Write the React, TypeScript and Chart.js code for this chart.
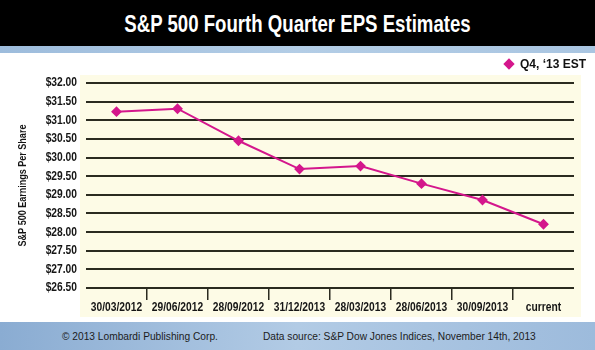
import React, { useEffect, useRef } from "react";
import { Chart, registerables } from "chart.js";

Chart.register(...registerables);

const categories = [
  "30/03/2012",
  "29/06/2012",
  "28/09/2012",
  "31/12/2013",
  "28/03/2013",
  "28/06/2013",
  "30/09/2013",
  "current",
];
const epsEstimates = [31.23, 31.31, 30.45, 29.69, 29.77, 29.3, 28.86, 28.21];
const seriesLabel = "Q4, \u201813 EST";
const yMin = 26.5;
const yMax = 32;
const yStep = 0.5;

const titleText = "S&P 500 Fourth Quarter EPS Estimates";
const yTitle = "S&P 500 Earnings Per Share";
const footerLeft = "\u00A9 2013 Lombardi Publishing Corp.";
const footerRight = "Data source: S&P Dow Jones Indices, November 14th, 2013";

const LINE = "#d4168c";
const GRID = "#2b2b20";
const TEXT = "#151515";
const SANS = "'Liberation Sans', Arial, sans-serif";
const SQUEEZE = 0.82;

const creamBg = {
  id: "creamBg",
  beforeDraw(chart: any) {
    const ctx = chart.ctx;
    ctx.save();
    ctx.fillStyle = "#fdfbe6";
    ctx.fillRect(80, 22, 501, 242);
    ctx.restore();
  },
};

// Draws tick labels and the y title in a condensed face (horizontal squeeze),
// positioned from the library's own scales.
const condensedLabels = {
  id: "condensedLabels",
  afterDraw(chart: any) {
    const ctx = chart.ctx;
    const xs = chart.scales.x;
    const ys = chart.scales.y;
    ctx.save();
    ctx.fillStyle = TEXT;
    ctx.font = `bold 12.5px ${SANS}`;
    ctx.textBaseline = "middle";

    ctx.textAlign = "right";
    ys.ticks.forEach((t: any, i: number) => {
      const y = ys.getPixelForTick(i);
      ctx.save();
      ctx.translate(ys.right - 9, y);
      ctx.scale(SQUEEZE, 1);
      ctx.fillText(String(t.label), 0, 0);
      ctx.restore();
    });

    ctx.textAlign = "center";
    xs.ticks.forEach((t: any, i: number) => {
      const x = xs.getPixelForTick(i);
      ctx.save();
      ctx.translate(x, xs.top + 20);
      ctx.scale(SQUEEZE, 1);
      ctx.fillText(String(t.label), 0, 0);
      ctx.restore();
    });

    ctx.font = `bold 11px ${SANS}`;
    ctx.save();
    ctx.translate(23, (ys.top + ys.bottom) / 2);
    ctx.rotate(-Math.PI / 2);
    ctx.scale(SQUEEZE, 1);
    ctx.textAlign = "center";
    ctx.fillText(yTitle, 0, 0);
    ctx.restore();

    ctx.restore();
  },
};

export default function App() {
  const ref = useRef<HTMLCanvasElement | null>(null);

  useEffect(() => {
    if (!ref.current) return;
    const chart = new Chart(ref.current, {
      type: "line",
      data: {
        labels: categories,
        datasets: [
          {
            label: seriesLabel,
            data: epsEstimates,
            borderColor: LINE,
            backgroundColor: LINE,
            borderWidth: 2,
            pointStyle: "rectRot",
            pointRadius: 4,
            pointBackgroundColor: LINE,
            pointBorderColor: LINE,
            tension: 0,
          },
        ],
      },
      options: {
        responsive: false,
        animation: false,
        devicePixelRatio: 1,
        layout: { padding: { top: 30, left: 0, right: 21, bottom: 0 } },
        plugins: {
          legend: { display: false },
          tooltip: { enabled: false },
          title: { display: false },
        },
        scales: {
          x: {
            type: "category",
            offset: true,
            border: { display: false },
            grid: {
              display: true,
              offset: true,
              drawOnChartArea: false,
              drawTicks: true,
              tickLength: 12,
              lineWidth: 1.5,
              color: (c: any) => (c.type === "tick" && c.index > 0 ? GRID : "rgba(0,0,0,0)"),
            },
            ticks: { display: false, autoSkip: false, maxRotation: 0 },
            afterFit: (s: any) => {
              s.height = 34;
            },
          },
          y: {
            min: yMin,
            max: yMax,
            border: { display: false },
            grid: {
              drawTicks: false,
              color: GRID,
              lineWidth: 2,
            },
            ticks: {
              display: false,
              stepSize: yStep,
              callback: (v: any) => "$" + Number(v).toFixed(2),
            },
            title: { display: false, text: yTitle },
            afterFit: (s: any) => {
              s.width = 86;
            },
          },
        },
      },
      plugins: [creamBg, condensedLabels],
    });
    return () => chart.destroy();
  }, []);

  return (
    <div
      style={{
        position: "fixed",
        left: 0,
        top: 0,
        width: 595,
        height: 350,
        background: "#ffffff",
        overflow: "hidden",
        fontFamily: SANS,
      }}
    >
      <div
        style={{
          position: "absolute",
          left: 0,
          top: 0,
          width: 595,
          height: 46,
          background: "#000000",
        }}
      >
        <div
          style={{
            position: "absolute",
            left: 0,
            top: 0,
            width: 595,
            height: 46,
            lineHeight: "48px",
            textAlign: "center",
            color: "#ffffff",
            fontWeight: "bold",
            fontSize: 24,
            transform: "scaleX(0.776)",
            whiteSpace: "nowrap",
          }}
        >
          {titleText}
        </div>
      </div>
      <div
        style={{
          position: "absolute",
          left: 0,
          top: 46,
          width: 595,
          height: 7,
          background: "linear-gradient(to right, #9dbcdc, #b3cde6 50%, #a9c5e1)",
        }}
      />
      <canvas
        ref={ref}
        width={595}
        height={269}
        style={{ position: "absolute", left: 0, top: 53, width: 595, height: 269 }}
      />
      <div
        style={{
          position: "absolute",
          left: 505,
          top: 56,
          height: 16,
          display: "flex",
          alignItems: "center",
          whiteSpace: "nowrap",
        }}
      >
        <span
          style={{
            display: "inline-block",
            width: 8,
            height: 8,
            background: LINE,
            transform: "rotate(45deg)",
            marginRight: 7,
          }}
        />
        <span style={{ fontWeight: "bold", fontSize: 12, color: "#111" }}>{seriesLabel}</span>
      </div>
      <div
        style={{
          position: "absolute",
          left: 0,
          top: 322,
          width: 595,
          height: 28,
          background: "linear-gradient(to right, #8aacd2, #b2cbe5 50%, #9dbbdc)",
        }}
      >
        <div
          style={{
            position: "absolute",
            left: 62,
            top: 9,
            fontSize: 10.2,
            color: "#1c1c1c",
            whiteSpace: "nowrap",
          }}
        >
          {footerLeft}
        </div>
        <div
          style={{
            position: "absolute",
            left: 263,
            top: 9,
            fontSize: 10.2,
            color: "#1c1c1c",
            whiteSpace: "nowrap",
          }}
        >
          {footerRight}
        </div>
      </div>
    </div>
  );
}
